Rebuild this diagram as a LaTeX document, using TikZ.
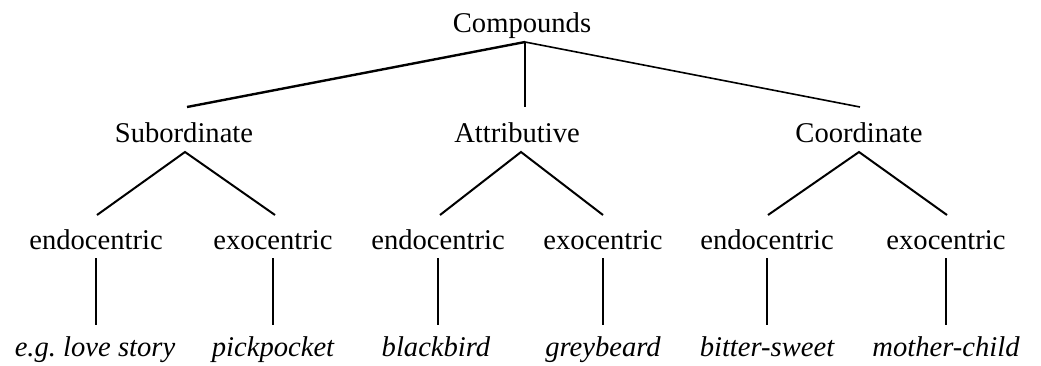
\documentclass[tikz,border=0pt]{standalone}
\usepackage{fontspec}
\setmainfont{Liberation Serif}
\begin{document}
\begin{tikzpicture}[x=1pt,y=-1pt,
  lbl/.style={anchor=base,inner sep=0pt,font=\fontsize{28.6}{32}\selectfont},
  ex/.style={lbl,font=\fontsize{28.6}{32}\selectfont\itshape},
  diag/.style={line width=2pt},
  stem/.style={line width=1.3pt}]
\useasboundingbox (0,0) rectangle (1041,365);
% level 0
\node[lbl] (comp) at (522,32) {Compounds};
% level 1
\node[lbl] (sub) at (184,142) {Subordinate};
\node[lbl] (att) at (517,142) {Attributive};
\node[lbl] (coo) at (859,142) {Coordinate};
% level 2
\node[lbl] (s1) at (96,249) {endocentric};
\node[lbl] (s2) at (273,249) {exocentric};
\node[lbl] (a1) at (438,249) {endocentric};
\node[lbl] (a2) at (603,249) {exocentric};
\node[lbl] (c1) at (767,249) {endocentric};
\node[lbl] (c2) at (946,249) {exocentric};
% level 3
\node[ex] (e1) at (95,356) {e.g.\ love story};
\node[ex] (e2) at (273,356) {pickpocket};
\node[ex] (e3) at (436,356) {blackbird};
\node[ex] (e4) at (603,356) {greybeard};
\node[ex] (e5) at (767,356) {bitter-sweet};
\node[ex] (e6) at (946,356) {mother-child};
% connectors level 0 -> 1
\coordinate (top) at ([xshift=3pt,yshift=-10pt]comp.base);
\draw[line width=2.4pt] (top) -- ([xshift=3pt,yshift=35pt]sub.base);
\draw[line width=1.2pt] (top) -- ([xshift=8pt,yshift=35pt]att.base);
\draw[line width=1.6pt] (top) -- ([xshift=1pt,yshift=35pt]coo.base);
% level 1 -> 2
\draw[diag] ([xshift=1pt,yshift=34pt]s1.base) -- ([xshift=1pt,yshift=-10pt]sub.base) -- ([xshift=2pt,yshift=34pt]s2.base);
\draw[diag] ([xshift=2pt,yshift=34pt]a1.base) -- ([xshift=4pt,yshift=-10pt]att.base) -- ([yshift=34pt]a2.base);
\draw[diag] ([xshift=1pt,yshift=34pt]c1.base) -- ([yshift=-10pt]coo.base) -- ([xshift=1pt,yshift=34pt]c2.base);
% level 2 -> 3
\foreach \a/\b in {s1/e1, s2/e2, a1/e3, a2/e4, c1/e5, c2/e6}{
  \draw[stem] ([yshift=-9pt]\a.base) -- ([yshift=31pt]\a.base |- \b.base);
}
\end{tikzpicture}
\end{document}
